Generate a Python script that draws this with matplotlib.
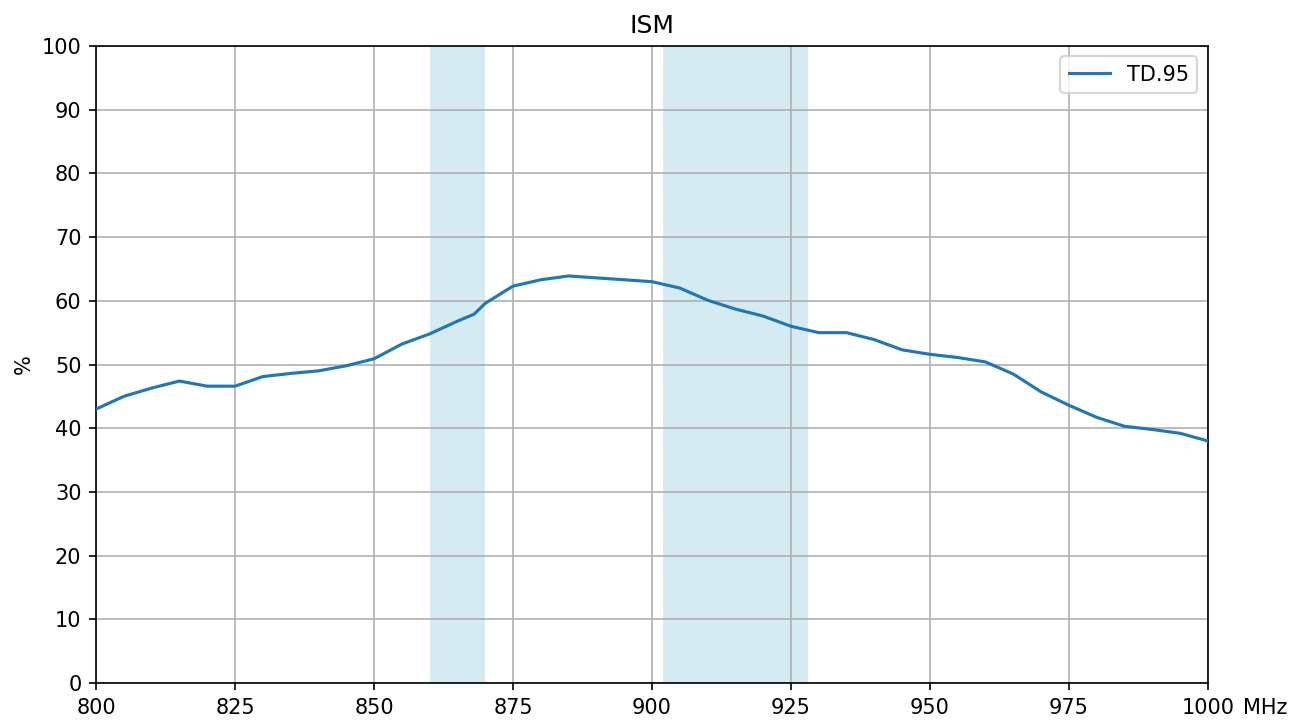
import matplotlib
matplotlib.use("Agg")
import matplotlib.pyplot as plt

freq = [800, 805, 810, 815, 820, 825, 830, 835, 840, 845, 850, 855, 860, 865, 868, 870,
        875, 880, 885, 890, 895, 900, 905, 910, 915, 920, 925, 930, 935, 940, 945, 950,
        955, 960, 965, 970, 975, 980, 985, 990, 995, 1000]
td95 = [43.0, 45.0, 46.3, 47.4, 46.6, 46.6, 48.1, 48.6, 49.0, 49.8, 50.9, 53.2, 54.8, 56.8, 57.9, 59.6,
        62.3, 63.3, 63.9, 63.6, 63.3, 63.0, 62.0, 60.1, 58.7, 57.6, 56.0, 55.0, 55.0, 53.9, 52.3, 51.6,
        51.1, 50.4, 48.5, 45.7, 43.6, 41.7, 40.3, 39.8, 39.2, 38.0]
bands = [(860, 870), (902, 928)]
series_label = "TD.95"
title = "ISM"

fig = plt.figure(figsize=(13.05 / 1.5, 7.22 / 1.5), dpi=150)
ax = fig.add_axes([0.0736, 0.054, 0.852, 0.8823])
for lo, hi in bands:
    ax.axvspan(lo, hi, color="lightblue", alpha=0.5, lw=0, zorder=0)
ax.plot(freq, td95, color="#1f77b4", lw=1.5, label=series_label, zorder=3)
ax.set_xlim(800, 1000)
ax.set_ylim(0, 100)
ax.set_xticks(range(800, 1001, 25))
ax.set_yticks(range(0, 101, 10))
ax.grid(True, color="#b0b0b0", lw=0.8, zorder=1)
ax.set_axisbelow(True)
ax.set_ylabel("%")
ax.set_title(title)
ax.annotate("MHz", xy=(1, 0), xycoords="axes fraction", xytext=(17, -7),
            textcoords="offset points", ha="left", va="top")
ax.legend(loc="upper right")
fig.savefig("out.png", dpi=150)
